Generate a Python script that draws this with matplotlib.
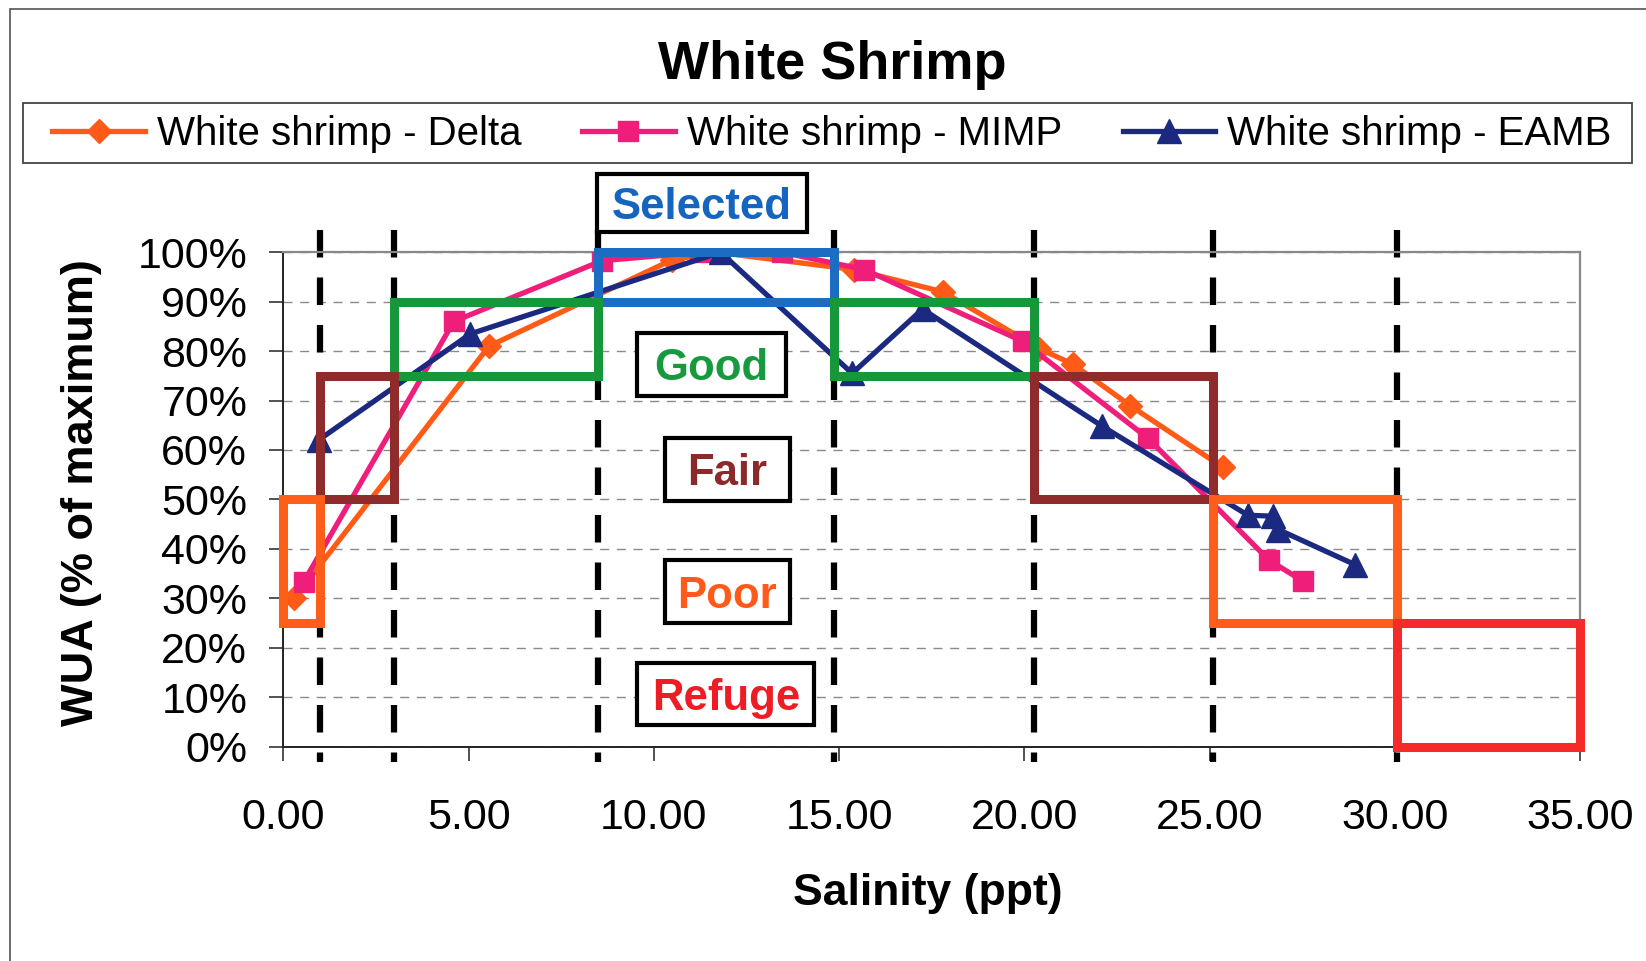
import matplotlib
matplotlib.use("Agg")
import matplotlib.pyplot as plt
from matplotlib.patches import Rectangle
from matplotlib.lines import Line2D
from matplotlib.ticker import FuncFormatter, MultipleLocator

plt.rcParams['font.family'] = ['Liberation Sans', 'DejaVu Sans']

# salinity (ppt) and WUA (% of maximum) for each series
delta_x = [0.3, 5.55, 10.5, 11.7, 15.4, 17.8, 20.4, 21.3, 22.85, 25.35]
delta_y = [30.0, 81.0, 98.5, 100.0, 96.5, 92.0, 80.5, 77.4, 69.0, 56.5]

mimp_x = [0.55, 4.6, 8.6, 11.25, 13.45, 15.68, 19.95, 23.33, 26.6, 27.53]
mimp_y = [33.3, 86.0, 98.3, 100.0, 100.0, 96.5, 82.0, 62.4, 37.7, 33.4]

eamb_x = [0.95, 5.05, 11.8, 15.35, 17.25, 22.1, 26.03, 26.72, 26.85, 28.92]
eamb_y = [62.0, 83.5, 100.0, 75.5, 88.5, 64.8, 46.8, 46.6, 43.9, 36.8]

series_names = ['White shrimp - Delta', 'White shrimp - MIMP', 'White shrimp - EAMB']

# habitat zones: salinity range and WUA range
zone_names = ['Selected', 'Good', 'Good', 'Fair', 'Fair', 'Poor', 'Poor', 'Refuge']
zone_x0 = [8.5, 3.0, 14.85, 1.0, 20.25, 0.0, 25.1, 30.05]
zone_x1 = [14.85, 8.5, 20.25, 3.0, 25.1, 1.0, 30.05, 35.0]
zone_y0 = [90, 75, 75, 50, 50, 25, 25, 0]
zone_y1 = [100, 90, 90, 75, 75, 50, 50, 25]

# salinity breaks (black dashed lines)
breaks = [1.0, 3.0, 8.5, 14.85, 20.25, 25.1, 30.05]

label_names = ['Selected', 'Good', 'Fair', 'Poor', 'Refuge']

zone_colors = {'Selected': '#1C6DC1', 'Good': '#16983A', 'Fair': '#8F2B2B',
               'Poor': '#FF5E1A', 'Refuge': '#F72A2A'}
text_colors = {'Selected': '#1565C0', 'Good': '#179A3D', 'Fair': '#8B2A2A',
               'Poor': '#FF5A1A', 'Refuge': '#EE1C25'}

W, H = 1646, 961
fig = plt.figure(figsize=(W / 100, H / 100), dpi=100)
ax = fig.add_axes([283.3 / W, 1 - 746.5 / H, 1297 / W, 494.2 / H])

ax.set_xlim(0, 35)
ax.set_ylim(0, 100)
ax.xaxis.set_major_locator(MultipleLocator(5))
ax.yaxis.set_major_locator(MultipleLocator(10))
ax.xaxis.set_major_formatter(FuncFormatter(lambda v, p: f'{v:.2f}'))
ax.yaxis.set_major_formatter(FuncFormatter(lambda v, p: f'{v:.0f}%'))
ax.tick_params(axis='both', labelsize=31, direction='out', length=10, width=1.2, color='#333333')
ax.tick_params(axis='y', pad=16)
ax.tick_params(axis='x', pad=27)
ax.yaxis.grid(True, color='#8a8a8a', linestyle=(0, (6.5, 5.5)), linewidth=1.0)
ax.set_axisbelow(True)
for s in ['left', 'bottom']:
    ax.spines[s].set_color('#222222')
    ax.spines[s].set_linewidth(1.4)
for s in ['top', 'right']:
    ax.spines[s].set_color('#888888')
    ax.spines[s].set_linewidth(1.6)

# dashed break lines, running a bit past the plot area
for bx in breaks:
    ax.plot([bx, bx], [104.5, -3.2], color='black', linewidth=4.5,
            dashes=(4.4, 3.2), clip_on=False, zorder=2)

lw = 3.8
ax.plot(delta_x, delta_y, color='#FF5B17', linewidth=lw, marker='D', markersize=12,
        label=series_names[0], zorder=3)
ax.plot(mimp_x, mimp_y, color='#EE1E7A', linewidth=lw, marker='s', markersize=15,
        label=series_names[1], zorder=3)
ax.plot(eamb_x, eamb_y, color='#1B2A80', linewidth=lw, marker='^', markersize=17,
        label=series_names[2], zorder=3)

for name, x0, x1, y0, y1 in zip(zone_names, zone_x0, zone_x1, zone_y0, zone_y1):
    ax.add_patch(Rectangle((x0, y0), x1 - x0, y1 - y0, fill=False,
                           edgecolor=zone_colors[name], linewidth=6.5,
                           clip_on=False, zorder=4))

# labelled frames for the zones
label_cx = [11.3, 11.56, 11.98, 11.98, 11.94]
label_cy = [110.0, 77.3, 56.1, 31.3, 10.6]
label_w = [5.67, 4.02, 3.36, 3.36, 4.78]
label_h = [11.74, 12.69, 12.7, 12.8, 12.6]
for name, cx, cy, w, h in zip(label_names, label_cx, label_cy, label_w, label_h):
    ax.add_patch(Rectangle((cx - w / 2, cy - h / 2), w, h, facecolor='white',
                           edgecolor='black', linewidth=3, clip_on=False, zorder=5))
    ax.text(cx, cy - 3.2, name, color=text_colors[name], fontsize=31.5,
            fontweight='bold', ha='center', va='baseline', zorder=6, clip_on=False)

# titles
fig.text(832.6 / W, 1 - 78.7 / H, 'White Shrimp', fontsize=39, fontweight='bold',
         ha='center', va='baseline')
fig.text(82 / W, 1 - 493 / H, 'WUA (% of maximum)', fontsize=32.5, fontweight='bold',
         rotation=90, ha='center', va='center')
fig.text(928 / W, 1 - 894 / H, 'Salinity (ppt)', fontsize=32, fontweight='bold',
         ha='center', va='center')

# legend with its own frame
handles, labels = ax.get_legend_handles_labels()
fig.legend(handles, labels, loc='center', bbox_to_anchor=(832 / W, 1 - 134 / H),
           ncol=3, frameon=False, fontsize=29, handlelength=2.3,
           handletextpad=0.3, columnspacing=1.5)
fig.patches.append(Rectangle((23 / W, 1 - 163 / H), 1609 / W, 60 / H, fill=False,
                             edgecolor='#444444', linewidth=1.3,
                             transform=fig.transFigure, figure=fig))

# outer chart border (top and left edges visible)
fig.lines.append(Line2D([11 / W, 1.0], [1 - 8.5 / H, 1 - 8.5 / H], color='#555555',
                        linewidth=1.2, transform=fig.transFigure, figure=fig))
fig.lines.append(Line2D([10 / W, 10 / W], [0.0, 1 - 8.5 / H], color='#555555',
                        linewidth=1.2, transform=fig.transFigure, figure=fig))

fig.savefig('out.png', dpi=100)
